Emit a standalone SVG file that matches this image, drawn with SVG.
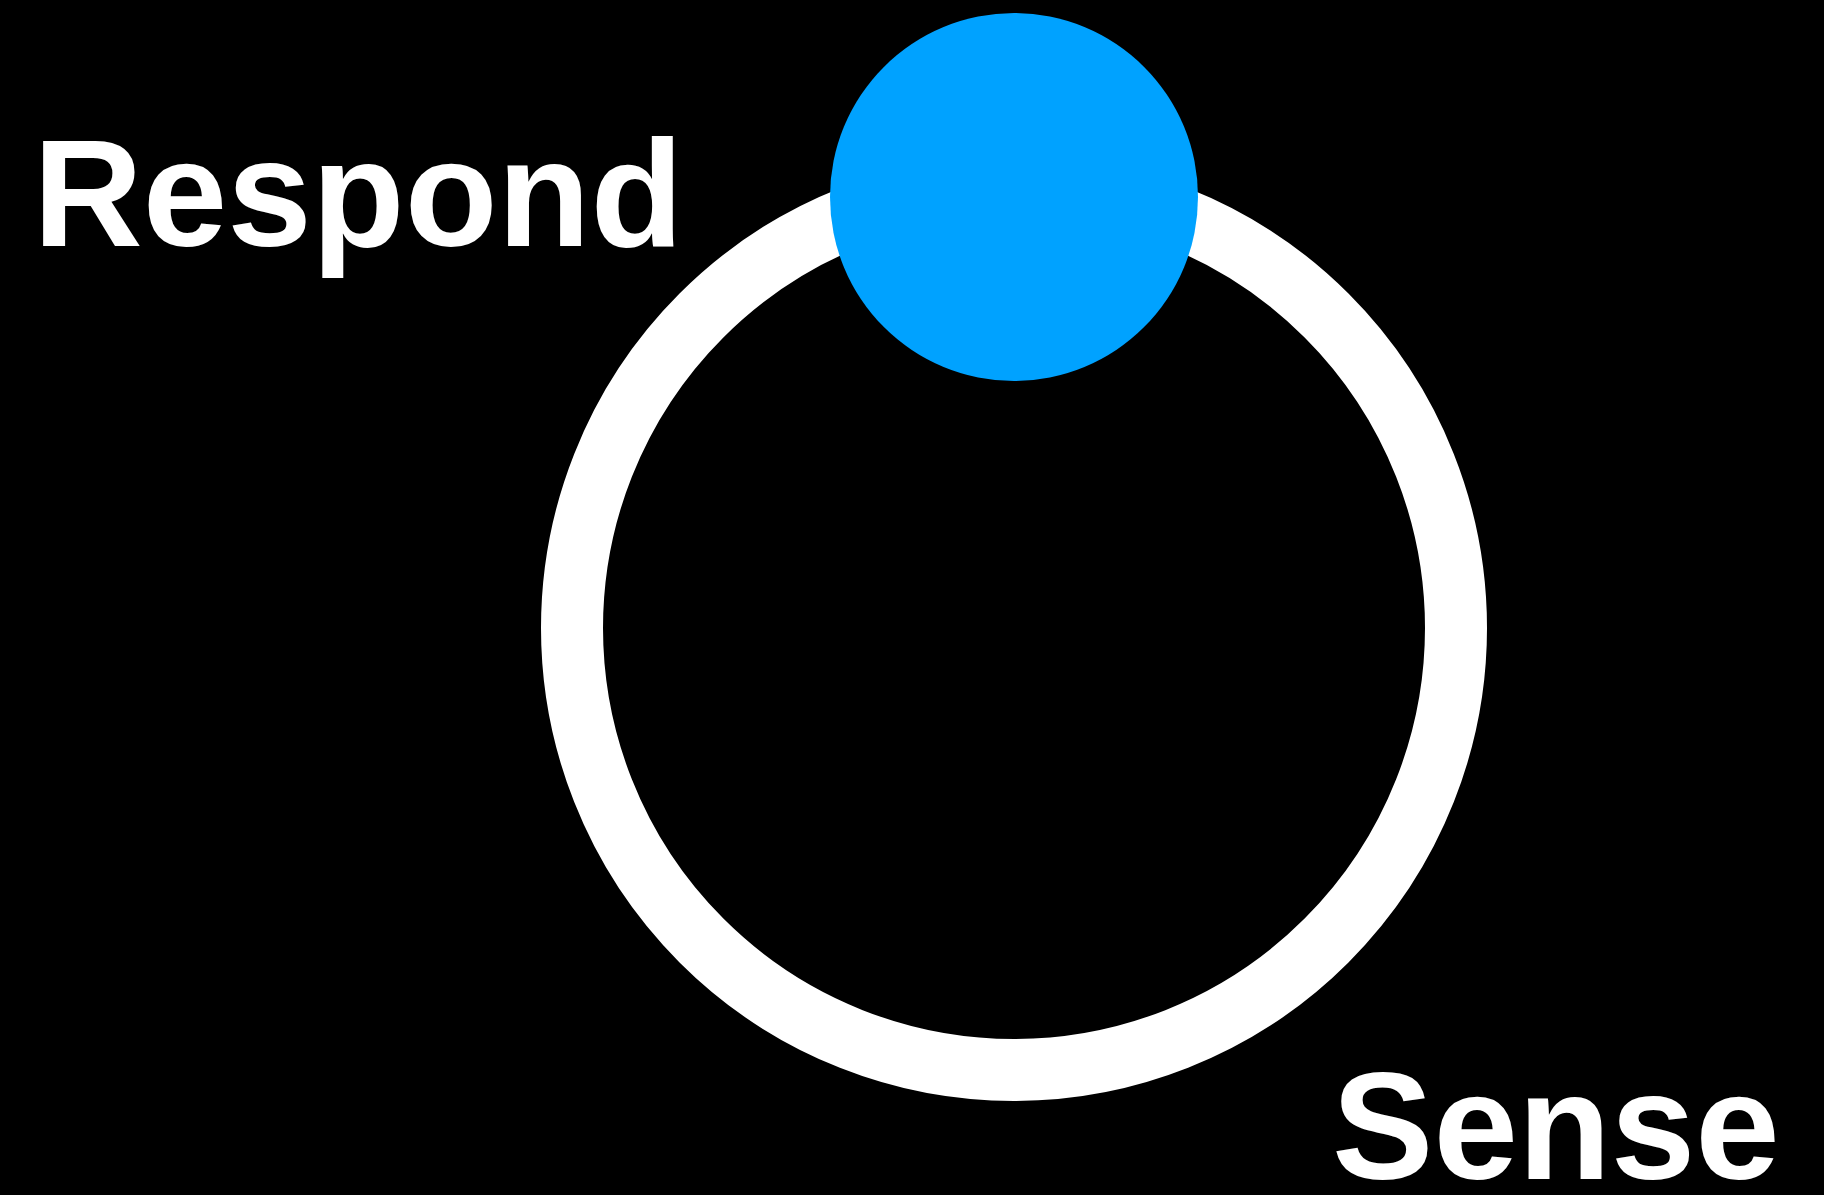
<svg xmlns="http://www.w3.org/2000/svg" width="1824" height="1195" viewBox="0 0 1824 1195">
<style>
.lbl{font-family:"Liberation Sans",Arial,Helvetica,sans-serif;font-weight:bold;font-size:152px;fill:#ffffff}
</style>
<rect x="0" y="0" width="1824" height="1195" fill="#000000"/>
<g id="connectors">
<circle cx="1014" cy="628" r="442" fill="none" stroke="#ffffff" stroke-width="62"/>
</g>
<g id="node-blue">
<circle cx="1014" cy="197" r="184" fill="#00A2FF"/>
</g>
<g id="label-respond">
<text class="lbl" x="33" y="246">Respond</text>
</g>
<g id="label-sense">
<text class="lbl" x="1332" y="1179">Sense</text>
</g>
</svg>
